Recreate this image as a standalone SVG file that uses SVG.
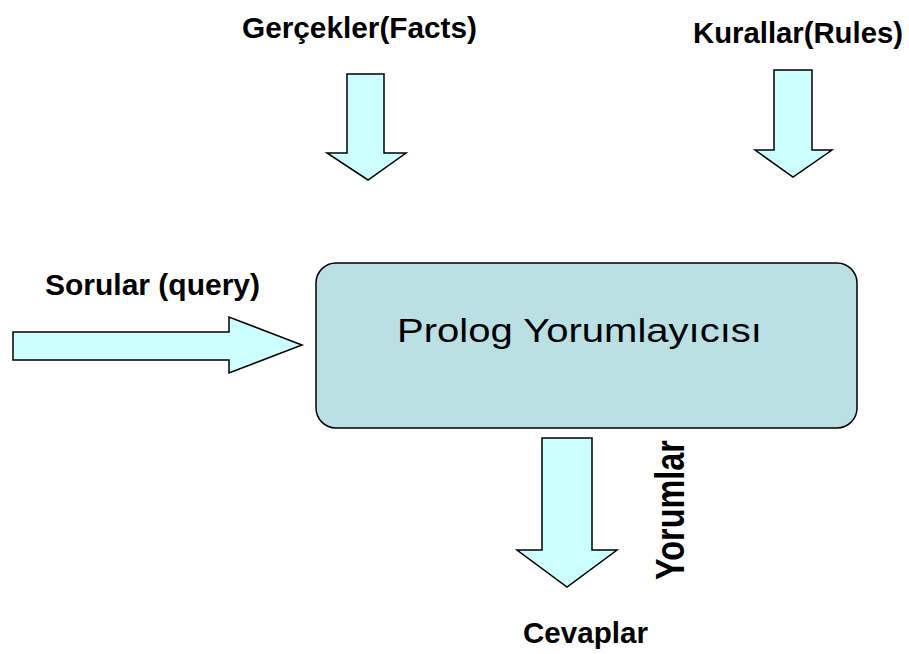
<svg xmlns="http://www.w3.org/2000/svg" width="909" height="654" viewBox="0 0 909 654">
  <style>
    .arrow { fill: #CCFFFF; stroke: #000; stroke-width: 1.5; stroke-linejoin: miter; }
    .box { fill: #BBE0E3; stroke: #000; stroke-width: 1.5; }
    .lbl { font-family: "Liberation Sans", Arial, sans-serif; font-weight: bold; font-size: 30px; fill: #000; }
    .title { font-family: "Liberation Sans", Arial, sans-serif; font-size: 33px; fill: #000; }
  </style>
  <rect width="909" height="654" fill="#fff"/>

  <g id="labels">
    <text class="lbl" x="242" y="38" textLength="235" lengthAdjust="spacingAndGlyphs">Gerçekler(Facts)</text>
    <text class="lbl" x="693" y="43" textLength="210" lengthAdjust="spacingAndGlyphs">Kurallar(Rules)</text>
    <text class="lbl" x="45" y="295" font-size="28" textLength="215" lengthAdjust="spacingAndGlyphs">Sorular (query)</text>
    <text class="lbl" x="523" y="643" textLength="125" lengthAdjust="spacingAndGlyphs">Cevaplar</text>
    <g transform="translate(684,510) rotate(-90) scale(1,1.35)">
      <text class="lbl" x="-70" y="0" font-size="31" textLength="140" lengthAdjust="spacingAndGlyphs">Yorumlar</text>
    </g>
  </g>

  <g id="connectors">
    <polygon id="facts-arrow" class="arrow" points="347,74 384,74 384,153 406,153 368,180 327,153 347,153"/>
    <polygon id="rules-arrow" class="arrow" points="774,70 812,70 812,150 832,150 793,177 755,150 774,150"/>
    <polygon id="query-arrow" class="arrow" points="13,332 229,332 229,317 302,345 229,373 229,360 13,360"/>
    <polygon id="answer-arrow" class="arrow" points="542,438 592,438 592,550 617,550 567,587 517,550 542,550"/>
  </g>

  <g id="interpreter">
    <rect class="box" x="316" y="263" width="541" height="165" rx="20" ry="20"/>
    <text class="title" x="397" y="342" textLength="365" lengthAdjust="spacingAndGlyphs">Prolog Yorumlayıcısı</text>
  </g>
</svg>
